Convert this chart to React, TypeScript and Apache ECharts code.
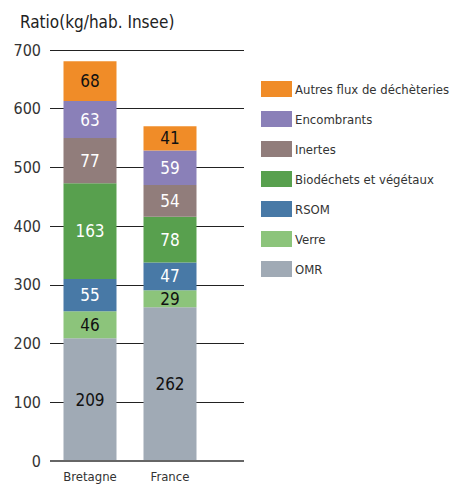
import React, { useEffect, useRef } from "react";
import * as echarts from "echarts";

const categories = ["Bretagne", "France"];
const seriesNames = [
  "OMR",
  "Verre",
  "RSOM",
  "Biodéchets et végétaux",
  "Inertes",
  "Encombrants",
  "Autres flux de déchèteries",
];
const omr = [209, 262];
const verre = [46, 29];
const rsom = [55, 47];
const biodechets = [163, 78];
const inertes = [77, 54];
const encombrants = [63, 59];
const autres = [68, 41];
const yTicks = [0, 100, 200, 300, 400, 500, 600, 700];

const values = [omr, verre, rsom, biodechets, inertes, encombrants, autres];
const colors = ["#a0aab5", "#8cc47b", "#4879a6", "#58a04e", "#917d7b", "#8a80b8", "#f08c28"];
const labelColors = ["#111", "#111", "#fff", "#fff", "#fff", "#fff", "#111"];
const FONT = "'DejaVu Sans Condensed', 'Liberation Sans Narrow', 'Roboto', sans-serif";

export default function App() {
  const ref = useRef<HTMLDivElement>(null);
  useEffect(() => {
    if (!ref.current) return;
    const chart = echarts.init(ref.current, undefined, { renderer: "svg" });
    chart.setOption({
      animation: false,
      textStyle: { fontFamily: FONT },
      title: {
        text: "Ratio(kg/hab. Insee)",
        left: 15,
        top: 8,
        textStyle: { fontFamily: FONT, fontSize: 17, fontWeight: "normal", color: "#222" },
      },
      legend: {
        orient: "vertical",
        left: 261,
        top: 81,
        padding: 0,
        itemWidth: 31,
        itemHeight: 16,
        itemGap: 14,
        icon: "rect",
        data: [...seriesNames].reverse(),
        textStyle: { fontFamily: FONT, fontSize: 13, color: "#333", padding: [0, 0, 0, -2] },
      },
      grid: [
        { left: 50, top: 50, width: 194, height: 411 },
        { left: 50, top: 50, width: 160, height: 411 },
      ],
      xAxis: [
        {
          type: "value",
          gridIndex: 0,
          min: 0,
          max: 1,
          show: false,
        },
        {
          type: "category",
          gridIndex: 1,
          data: categories,
          axisLine: { show: false },
          axisTick: { show: false },
          axisLabel: { fontFamily: FONT, fontSize: 13, color: "#333", margin: 9 },
        },
      ],
      yAxis: [
        {
          type: "value",
          gridIndex: 0,
          min: yTicks[0],
          max: yTicks[yTicks.length - 1],
          interval: 100,
          axisLine: { show: false },
          axisTick: { show: false },
          axisLabel: { fontFamily: FONT, fontSize: 16, color: "#333", margin: 9 },
          splitLine: { show: true, lineStyle: { color: "#222", width: 1 } },
        },
        {
          type: "value",
          gridIndex: 1,
          min: 0,
          max: 700,
          interval: 100,
          show: false,
          splitLine: { show: false },
        },
      ],
      series: [
        ...seriesNames.map((name, i) => ({
          name,
          type: "bar",
          stack: "total",
          xAxisIndex: 1,
          yAxisIndex: 1,
          barWidth: 53,
          data: values[i],
          itemStyle: { color: colors[i] },
          label: {
            show: true,
            position: "inside",
            fontFamily: FONT,
            fontSize: 17,
            fontWeight: "normal",
            color: labelColors[i],
          },
        })),
        {
          type: "line",
          xAxisIndex: 0,
          yAxisIndex: 0,
          data: [],
          silent: true,
          markLine: {
            silent: true,
            symbol: "none",
            label: { show: false },
            lineStyle: { color: "#666", width: 2, type: "solid" },
            data: [[{ coord: [0, 0] }, { coord: [1, 0] }]],
          },
        },
      ],
    });
    return () => chart.dispose();
  }, []);
  return <div ref={ref} style={{ width: 454, height: 486, position: "absolute", left: 0, top: 0 }} />;
}
